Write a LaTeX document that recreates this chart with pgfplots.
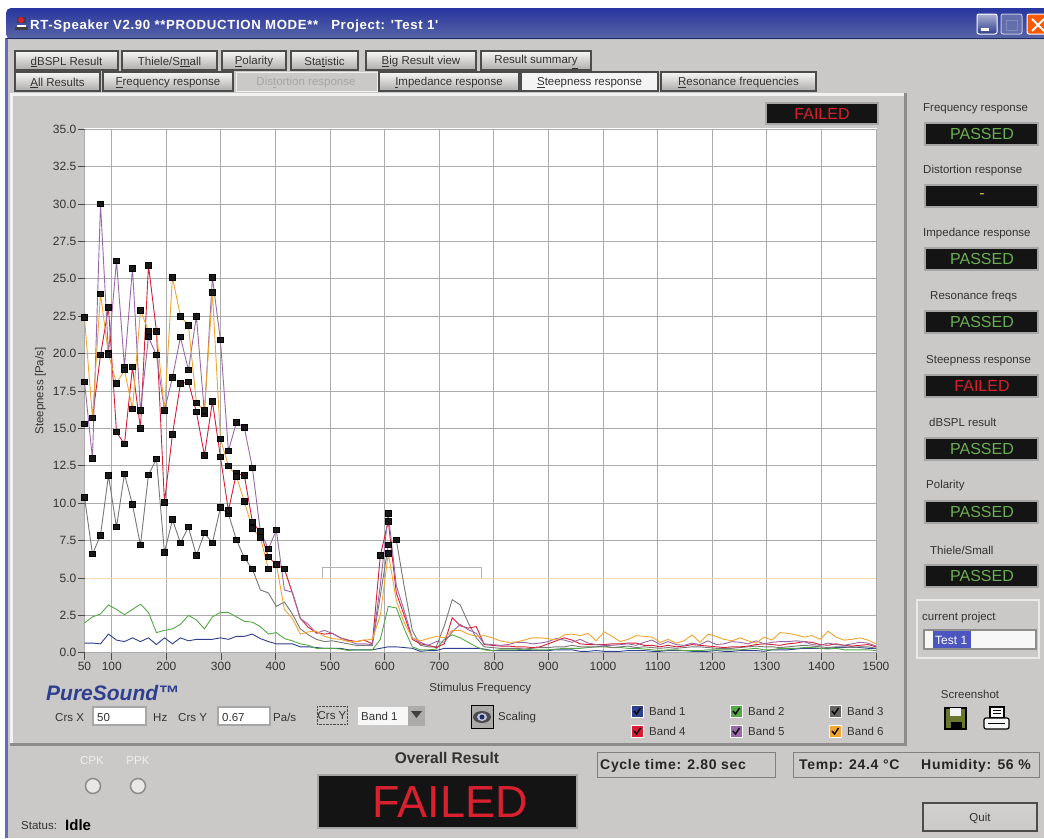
\documentclass[border=0pt]{standalone}
\usepackage{fontspec}
\setmainfont{Liberation Sans}
\newfontfamily\spaced[LetterSpace=5]{Liberation Sans}
\usepackage{pgfplots}
\usepackage{pgfplotstable}
\pgfplotsset{compat=1.18}
\usetikzlibrary{calc}
\definecolor{guibg}{HTML}{CBC9C7}
\definecolor{txt}{HTML}{333333}
\definecolor{bandA}{HTML}{2F3F8F}
\definecolor{bandB}{HTML}{55A845}
\definecolor{bandC}{HTML}{777777}
\definecolor{bandD}{HTML}{D41F35}
\definecolor{bandE}{HTML}{9A68A8}
\definecolor{bandF}{HTML}{F0A530}
\definecolor{okgreen}{HTML}{6AAE50}
\definecolor{badred}{HTML}{D8202F}
\newcommand\fs[1]{\fontsize{#1}{#1}\selectfont}
\newcommand\lab[3]{\node[anchor=west,inner sep=0pt,text=txt,font=\fs{11.5}] at (#1,#2+1.5) {#3};}
\newcommand\btn[5][txt]{\draw[draw=black!70,line width=1.2pt,top color=white!85!guibg,bottom color=guibg!85!black] (#2,#3) rectangle (#4,#3+19);
  \node[text=#1,font=\fs{11.5}] at ({(#2+#4)/2},#3+11) {#5};}
\newcommand\ind[3]{\draw[draw=black!35,line width=2pt,fill=black!92] (925,#1) rectangle (1038,#1+22);
  \node[text=#3,font=\fs{16}] at (982,#1+11) {#2};}
\newcommand\chk[3]{\draw[draw=white,line width=1pt,fill=#3] (#1,#2) rectangle (#1+12,#2+12);
  \draw[black,line width=1.4pt] (#1+3,#2+6) -- (#1+5.5,#2+9) -- (#1+9.5,#2+3);}
\pgfplotstableread{
f b1 b2 b3 b4 b5 b6
50 0.65 2.0 10.4 15.3 18.1 22.4
64.6 0.65 2.4 6.6 15.7 13.0 15.7
79.3 0.6 2.6 7.85 19.9 30.0 24.0
93.9 1.25 3.2 11.85 23.1 20.0 19.95
108.6 0.85 2.9 8.4 14.75 26.2 18.0
123.2 0.75 2.55 11.95 13.95 19.1 18.9
137.9 1.0 2.9 9.9 19.1 25.7 16.3
152.5 0.75 3.25 7.2 15.0 16.2 22.9
167.2 1.0 2.7 11.9 25.9 21.1 21.5
181.8 0.55 1.35 12.95 21.5 19.9 21.5
196.5 1.0 1.5 6.7 10.05 16.2 16.2
211.1 0.6 1.6 8.9 14.6 18.4 25.1
225.8 1.0 1.9 7.35 18.0 21.1 22.5
240.4 0.8 2.5 8.4 18.1 18.9 21.9
255 0.9 2.2 6.5 16.1 22.5 16.7
269.7 0.9 1.6 8.0 13.2 16.0 16.2
284.3 0.9 2.4 7.35 16.8 25.1 24.1
299 1.0 2.7 9.7 13.1 20.9 14.3
313.6 0.9 2.7 9.3 9.5 13.5 12.5
328.3 1.1 2.4 7.55 12.0 15.4 11.8
342.9 1.1 2.1 6.35 11.85 15.05 10.1
357.6 1.25 2.05 5.6 8.75 12.35 8.3
372.2 0.95 1.75 4.2 8.05 8.1 7.7
386.9 0.75 1.25 4.0 6.4 6.95 5.6
401.5 0.6 1.35 3.1 5.9 8.2 5.9
416.2 0.6 0.95 3.4 5.6 4.2 2.9
430.8 0.6 0.8 2.6 4.0 4.05 2.3
445.4 0.4 0.6 1.6 2.3 2.3 1.25
460.1 0.4 0.5 1.2 1.7 1.9 1.4
474.7 0.35 0.3 0.9 1.35 1.3 1.45
489.4 0.3 0.3 0.75 1.25 1.5 1.1
504 0.3 0.3 0.8 1.3 1.3 0.95
518.7 0.3 0.25 0.7 1.0 1.0 0.9
533.3 0.2 0.15 0.6 0.85 0.8 0.75
548 0.2 0.2 0.5 0.75 0.6 0.75
562.6 0.2 0.2 0.5 0.85 0.6 0.85
577.3 0.2 0.2 0.5 0.6 0.55 0.9
591.9 0.3 0.9 3.8 6.5 4.5 2.5
606.5 0.4 3.1 7.2 8.8 9.3 6.65
621.2 0.4 3.0 7.55 4.0 4.5 3.5
635.8 0.35 1.6 4.4 2.5 2.8 2.0
650.5 0.3 0.4 1.5 0.9 1.0 1.0
665.1 0.1 0.2 0.5 0.6 0.7 0.8
679.8 0.15 0.2 0.4 0.5 0.5 0.95
694.4 0.15 0.25 0.4 0.35 0.75 1.1
709.1 0.3 0.9 1.8 0.6 0.7 1.0
723.7 0.3 1.2 3.55 2.35 1.4 1.5
738.4 0.3 1.0 3.2 1.8 1.9 1.5
753 0.3 0.7 2.0 1.65 1.55 1.25
767.7 0.3 0.4 1.0 1.75 1.3 1.1
782.3 0.25 0.2 0.4 0.55 0.6 1.15
796.9 0.15 0.15 0.35 0.5 0.55 1.0
811.6 0.15 0.2 0.3 0.45 0.5 0.8
826.2 0.15 0.2 0.3 0.45 0.55 0.7
840.9 0.15 0.2 0.3 0.4 0.7 0.72
855.5 0.15 0.25 0.25 0.4 0.7 0.85
870.2 0.15 0.2 0.3 0.35 0.6 1.0
884.8 0.15 0.2 0.35 0.4 0.65 1.0
899.5 0.15 0.2 0.35 0.6 0.75 0.95
914.1 0.2 0.25 0.4 0.8 0.95 0.85
928.8 0.2 0.3 0.4 1.0 0.85 1.2
943.4 0.2 0.3 0.5 0.85 0.7 1.25
958 0.1 0.3 0.4 0.6 0.9 1.15
972.7 0.1 0.35 0.4 0.55 0.65 1.3
987.3 0.15 0.4 0.4 0.55 0.55 0.8
1002 0.1 0.4 0.45 0.55 0.5 1.4
1016.6 0.1 0.35 0.35 0.6 0.5 1.1
1031.3 0.1 0.35 0.4 0.6 0.55 0.75
1045.9 0.15 0.3 0.45 0.65 0.6 0.9
1060.6 0.15 0.3 0.35 0.65 0.5 1.15
1075.2 0.15 0.25 0.4 0.5 0.7 1.1
1089.9 0.1 0.2 0.35 0.5 0.85 1.05
1104.5 0.1 0.15 0.3 0.4 0.55 0.7
1119.1 0.15 0.2 0.35 0.5 0.75 0.9
1133.8 0.15 0.2 0.3 0.4 0.55 0.65
1148.4 0.15 0.15 0.35 0.45 0.5 0.8
1163.1 0.1 0.15 0.4 0.55 0.65 1.2
1177.7 0.1 0.15 0.4 0.5 0.55 0.7
1192.4 0.1 0.2 0.35 0.45 0.8 1.25
1207 0.15 0.2 0.3 0.4 0.55 1.1
1221.7 0.1 0.2 0.3 0.35 0.6 0.9
1236.3 0.1 0.2 0.3 0.4 0.75 0.8
1251 0.15 0.2 0.35 0.4 0.7 1.0
1265.6 0.15 0.25 0.4 0.45 0.6 0.8
1280.2 0.15 0.3 0.45 0.55 0.8 0.65
1294.9 0.1 0.2 0.4 0.6 0.6 1.05
1309.5 0.2 0.2 0.4 0.55 0.7 0.85
1324.2 0.2 0.3 0.35 0.5 0.75 1.35
1338.8 0.2 0.3 0.4 0.6 0.75 1.3
1353.5 0.25 0.3 0.45 0.65 0.8 1.2
1368.1 0.3 0.35 0.5 0.75 0.75 1.05
1382.8 0.3 0.35 0.45 0.7 0.55 1.15
1397.4 0.3 0.3 0.4 0.55 0.5 0.9
1412.1 0.3 0.25 0.35 0.5 0.65 1.45
1426.7 0.35 0.3 0.4 0.6 0.55 1.05
1441.3 0.35 0.2 0.4 0.5 0.5 0.85
1456 0.4 0.2 0.35 0.45 0.6 0.9
1470.6 0.35 0.2 0.4 0.5 0.7 1.0
1485.3 0.3 0.2 0.4 0.55 0.65 0.85
1500 0.3 0.15 0.3 0.4 0.45 0.6
}\steep
\begin{document}
\begin{tikzpicture}[x=1pt,y=-1pt]
\useasboundingbox (0,0) rectangle (1044,838);
% window
\fill[white] (0,0) rectangle (1044,838);
\fill[guibg] (8,38) rectangle (1044,838);
\fill[bandA!70!blue!70!white] (5,38) rectangle (8,838);
\shade[top color=bandA!85!blue,bottom color=bandA!80!white,rounded corners=5pt] (6,8) rectangle (1060,39);
\fill[bandA!70!black] (6,38) rectangle (1044,39);
\node[anchor=west,inner sep=0pt,text=white,font=\fs{13.2}\spaced\bfseries] at (30,26) {RT-Speaker V2.90 **PRODUCTION MODE**\ \ \ Project: 'Test 1'};
\fill[black!75] (17,17) rectangle (26,23); \fill[badred] (21,20) circle (3); \fill[black!75] (15,27) rectangle (28,30); \fill[white] (17,25) rectangle (26,27);
\draw[white,line width=1pt,rounded corners=2pt,top color=bandA!40!white,bottom color=bandA] (977,14) rectangle (997,34);
\fill[white] (981,28) rectangle (989,31);
\draw[white!70!bandA,line width=1pt,rounded corners=2pt,fill=bandA!75!white] (1001,14) rectangle (1022,34);
\draw[white!40!bandA,line width=1pt] (1006,20) rectangle (1017,30);
\draw[white,line width=1pt,rounded corners=2pt,fill=orange!70!red] (1027,14) rectangle (1050,34);
\draw[white,line width=2pt] (1032,19) -- (1044,31) (1044,19) -- (1032,31);
% panel
\fill[white!75!guibg] (10,93) rectangle (907,96);
\fill[white!75!guibg] (10,93) rectangle (13,745);
\fill[black!45] (904,93) rectangle (907,746);
\fill[black!45] (10,743) rectangle (907,746);
% buttons
\btn{15}{51}{118}{\underline{d}BSPL Result}
\btn{122}{51}{217}{Thiele/S\underline{m}all}
\btn{222}{51}{286}{\underline{P}olarity}
\btn{291}{51}{358}{Sta\underline{t}istic}
\btn{366}{51}{476}{\underline{B}ig Result view}
\btn{481}{51}{591}{Result summar\underline{y}}
\btn{15}{72}{100}{\underline{A}ll Results}
\btn{103}{72}{233}{\underline{F}requency response}
\btn{379}{72}{519}{\underline{I}mpedance response}
\btn{661}{72}{816}{\underline{R}esonance frequencies}
\draw[draw=white!70!guibg,line width=1pt,fill=guibg] (236,72) rectangle (377,91);
\node[text=black!35,font=\fs{11.5}] at (306,83) {Dis\underline{t}ortion response};
\draw[draw=black!70,line width=1.2pt,fill=white!80!guibg] (521,72) rectangle (658,91);
\node[text=txt,font=\fs{11.5}] at (589.5,83) {\underline{S}teepness response};
% top failed box
\draw[draw=black!35,line width=2pt,fill=black!92] (766,103) rectangle (878,124);
\node[text=badred,font=\fs{16}] at (822,113.5) {FAILED};
% plot white
\fill[white] (84,128) rectangle (877,653);
% side indicators
\lab{923}{107}{Frequency response}
\ind{123}{PASSED}{okgreen}
\lab{923}{169}{Distortion response}
\ind{185}{-}{yellow!80!black}
\lab{923}{232}{Impedance response}
\ind{248}{PASSED}{okgreen}
\lab{930}{295}{Resonance freqs}
\ind{311}{PASSED}{okgreen}
\lab{926}{359}{Steepness response}
\ind{375}{FAILED}{badred}
\lab{929}{421}{dBSPL result}
\ind{438}{PASSED}{okgreen}
\lab{926}{484}{Polarity}
\ind{501}{PASSED}{okgreen}
\lab{930}{549}{Thiele/Small}
\ind{565}{PASSED}{okgreen}
% project box
\draw[draw=white!60!guibg,line width=1.5pt] (917,600) rectangle (1039,658);
\lab{922}{616}{current project}
\draw[draw=black!45,line width=1.5pt,fill=white!85!guibg] (924,630) rectangle (1036,649);
\fill[bandA!70!blue!80!white] (933,631) rectangle (971,648);
\node[anchor=west,inner sep=0pt,text=white,font=\fs{12}] at (935,640.5) {Test 1};
% screenshot
\node[text=txt,font=\fs{11.5}] at (970,694) {Screenshot};
\draw[black,line width=1.2pt,fill=olive!70!green!70!black] (945,708) rectangle (966,729);
\fill[black] (951,722) rectangle (962,729);
\fill[white!80!guibg] (950,708) rectangle (961,716);
\draw[black,line width=1.2pt,fill=white] (990,707) rectangle (1004,718);
\draw[black,line width=1.2pt,fill=white!85!guibg,rounded corners=2pt] (984,718) rectangle (1009,729);
\draw[black,line width=0.8pt] (993,710) -- (1001,710) (993,713) -- (1001,713) (988,723) -- (1005,723);
% quit
\draw[draw=black!70,line width=1.5pt,top color=guibg!85!white,bottom color=guibg] (923,803) rectangle (1037,831);
\node[text=txt,font=\fs{11.5}] at (980,818) {Quit};
% bottom
\node[text=white!70!guibg,font=\fs{11.5}] at (92,761) {CPK};
\node[text=white!70!guibg,font=\fs{11.5}] at (138,761) {PPK};
\draw[black!45,line width=1.5pt,fill=white!55!guibg] (93,786) circle (7.5);
\draw[black!45,line width=1.5pt,fill=white!55!guibg] (138,786) circle (7.5);
\lab{21}{824}{Status:}
\node[anchor=west,inner sep=0pt,text=black,font=\fs{15}\bfseries] at (65,825) {Idle};
\node[text=black!80,font=\fs{15.5}\bfseries] at (447,758) {Overall Result};
\draw[draw=black!35,line width=2pt,fill=black!92] (318,775) rectangle (577,828);
\node[text=badred,font=\fs{45}] at (450,802) {FAILED};
\draw[draw=black!50,line width=1pt] (597,752) rectangle (775,777);
\node[anchor=west,inner sep=0pt,text=black!85,font=\fs{14}\spaced\bfseries] at (600,766) {Cycle time: 2.80 sec};
\draw[draw=black!50,line width=1pt] (793,752) rectangle (1039,777);
\node[anchor=west,inner sep=0pt,text=black!85,font=\fs{14}\spaced\bfseries] at (799,766) {Temp: 24.4 °C};
\node[anchor=east,inner sep=0pt,text=black!85,font=\fs{14}\spaced\bfseries] at (1031,766) {Humidity: 56 \%};
% controls
\node[anchor=west,inner sep=0pt,text=bandA,font=\fs{21}\bfseries\itshape] at (46,693) {PureSound™};
\lab{55}{716}{Crs X}
\draw[draw=black!35,line width=1.5pt,fill=white] (93,707) rectangle (146,725);
\lab{97}{716}{50}
\lab{153}{716}{Hz}
\lab{178}{716}{Crs Y}
\draw[draw=black!35,line width=1.5pt,fill=white] (218,707) rectangle (270,725);
\lab{222}{716}{0.67}
\lab{273}{716}{Pa/s}
\draw[densely dotted,black!70] (317,706) rectangle (347,724);
\node[text=txt,font=\fs{11.5}] at (332,716) {Crs Y};
\fill[white!85!guibg] (358,707) rectangle (408,725);
\lab{361}{715}{Band 1}
\fill[guibg!85!black] (408,706) rectangle (425,726);
\fill[black!75] (411,711) -- (422,711) -- (416.5,718) -- cycle;
\draw[black,line width=1pt,fill=guibg!85!black] (471,705) rectangle (493,728);
\fill[black!70] (482,717) ellipse (9 and 6);
\fill[white!70!bandA] (482,717) ellipse (5 and 4);
\fill[bandA!70!black] (482,717) circle (2.5);
\lab{498}{716}{Scaling}
\chk{631}{705}{bandA}\lab{649}{710}{Band 1}
\chk{730}{705}{bandB}\lab{748}{710}{Band 2}
\chk{829}{705}{black!60}\lab{847}{710}{Band 3}
\chk{631}{725}{bandD}\lab{649}{730}{Band 4}
\chk{730}{725}{bandE}\lab{748}{730}{Band 5}
\chk{829}{725}{bandF}\lab{847}{730}{Band 6}
% chart
\coordinate (A) at (84.5,129.2);
\begin{axis}[
  at={(A)},anchor=north west,scale only axis,
  width=791.5pt,height=523.6pt,
  xmin=50,xmax=1500,ymin=0,ymax=35,
  axis line style={draw=none},
  tick align=outside,tick pos=left,major tick length=7pt,
  tick style={black!70,line width=0.8pt},
  xtick={50,100,200,300,400,500,600,700,800,900,1000,1100,1200,1300,1400,1500},
  ytick={0,2.5,...,35},
  grid=major,grid style={black!33,line width=1pt},
  /pgf/number format/assume math mode=true,
  yticklabel style={/pgf/number format/fixed,/pgf/number format/fixed zerofill,/pgf/number format/precision=1,font=\fs{12},text=txt,inner sep=1pt},
  xticklabel style={/pgf/number format/fixed,/pgf/number format/1000 sep={},font=\fs{12},text=txt,inner sep=1pt,yshift=-1.5pt},
  xlabel={Stimulus Frequency},ylabel={Steepness [Pa/s]},
  xlabel style={font=\fs{11.5},text=txt,at={(axis description cs:0.5,0)},anchor=center,yshift=-35.5pt},
  ylabel style={font=\fs{11.5},text=txt,at={(axis description cs:0,0.5)},anchor=center,yshift=44pt},
  every axis plot/.append style={line width=0.9pt},
]
\addplot[color=orange!30!white,line width=0.8pt] coordinates {(50,5) (1500,5)};
\addplot[color=black!30,line width=0.8pt] coordinates {(486,5) (486,5.7) (777,5.7) (777,5)};
\addplot[color=bandA] table[x=f,y=b1] {\steep};
\addplot[color=bandB] table[x=f,y=b2] {\steep};
\addplot[color=bandC] table[x=f,y=b3] {\steep};
\addplot[color=bandD] table[x=f,y=b4] {\steep};
\addplot[color=bandE] table[x=f,y=b5] {\steep};
\addplot[color=bandF] table[x=f,y=b6] {\steep};
\pgfplotsinvokeforeach{b3,b4,b5,b6}{
  \addplot[only marks,mark=square*,mark size=2.8pt,mark options={black,fill=black!90},restrict y to domain=5:40] table[x=f,y=#1] {\steep};
}
\end{axis}
\end{tikzpicture}
\end{document}
